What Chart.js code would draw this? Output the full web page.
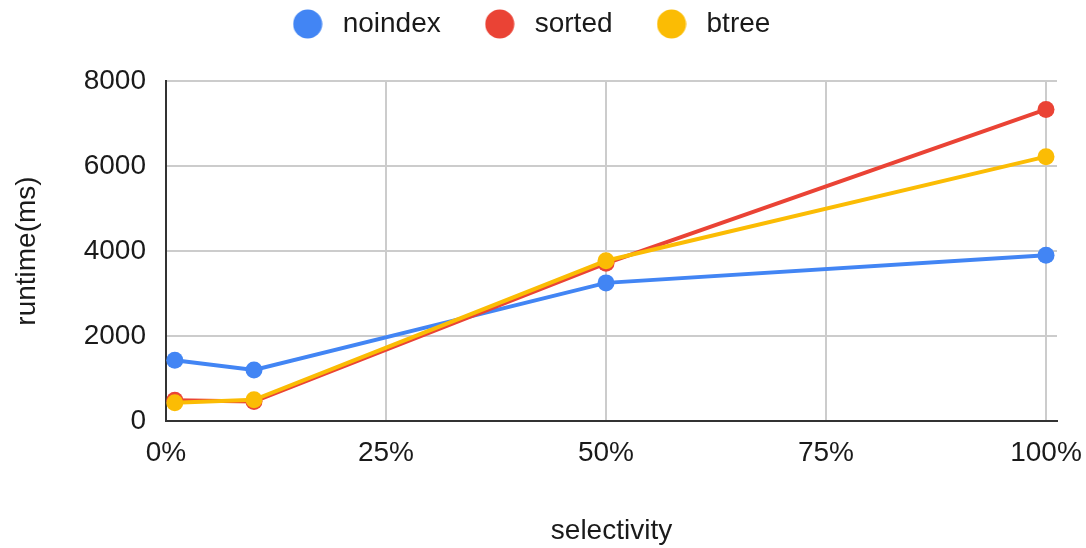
<!DOCTYPE html>
<html>
<head>
<meta charset="utf-8">
<script src="https://cdn.jsdelivr.net/npm/chart.js@4"></script>
<style>
html,body{margin:0;padding:0;background:#fff;}
canvas{display:block;}
</style>
</head>
<body>
<canvas id="chart" width="1086" height="548"></canvas>
<script>
// selectivity (%) on the x axis
const selectivity = [1, 10, 50, 100];
// runtime in ms for each index type
const noindex = [1430, 1200, 3250, 3900];
const sorted = [490, 460, 3710, 7330];
const btree = [430, 500, 3770, 6220];
const seriesNames = ['noindex', 'sorted', 'btree'];
const xTicks = [0, 25, 50, 75, 100];
const yTicks = [0, 2000, 4000, 6000, 8000];

const colors = ['#4285F4', '#EA4335', '#FBBC04'];
const FONT = {family: '"Liberation Sans", Arial, sans-serif', size: 28};
const TEXT = '#1a1a1a';

function pts(vals){ return selectivity.map((x,i)=>({x:x, y:vals[i]})); }

// legend dot on a small canvas, so the gap to the label can be wider than the dot
function dot(color){
  const c=document.createElement('canvas'); c.width=c.height=30;
  const g=c.getContext('2d'); g.fillStyle=color;
  g.beginPath(); g.arc(15,15,14.5,0,Math.PI*2); g.fill();
  return c;
}

const datasets=[noindex, sorted, btree].map((d,i)=>({
  label: seriesNames[i], data: pts(d),
  borderColor: colors[i], backgroundColor: colors[i],
  borderWidth: 4, pointRadius: 8.5, pointHoverRadius: 8.5, pointBorderWidth: 0,
  tension: 0, order: 2-i   // later series on top, like the sheet
}));

new Chart(document.getElementById('chart'), {
  type: 'line',
  data: {datasets},
  options: {
    responsive: false, animation: false, events: [],
    layout: {padding: {top: -28, right: 29, bottom: 0, left: 0}},
    plugins: {
      tooltip: {enabled: false},
      legend: {
        position: 'top',
        labels: {
          font: FONT, color: TEXT, usePointStyle: true, pointStyleWidth: 42, padding: 38,
          generateLabels(chart){
            return chart.data.datasets.map((ds,i)=>({
              text: ds.label, datasetIndex: i, pointStyle: dot(ds.borderColor),
              fillStyle: ds.borderColor, strokeStyle: ds.borderColor, lineWidth: 0,
              hidden: false, fontColor: TEXT
            }));
          }
        }
      },
      // empty title used as spacer between legend and plot
      title: {display: true, text: '', weight: 500, padding: {top: 32, bottom: 0}, font: {size: 1, lineHeight: 1}}
    },
    scales: {
      x: {
        type: 'linear', min: 0, max: 101.25,
        afterBuildTicks: s => { s.ticks = xTicks.map(v=>({value:v})); },
        afterFit: s => { s.height = 127; s.paddingLeft = 0; s.paddingRight = 0; },
        ticks: {font: FONT, color: TEXT, padding: 15, maxRotation: 0, autoSkip: false, callback: v => v + '%'},
        grid: {color: '#ccc', lineWidth: 2, drawTicks: false},
        border: {color: '#333', width: 2},
        title: {display: true, text: 'selectivity', font: FONT, color: TEXT, padding: {top: 0, bottom: 0}}
      },
      y: {
        min: 0, max: 8000,
        afterBuildTicks: s => { s.ticks = yTicks.map(v=>({value:v})); },
        afterFit: s => { s.width = 166; },
        ticks: {font: FONT, color: TEXT, padding: 20, callback: v => String(v)},
        grid: {color: '#ccc', lineWidth: 2, drawTicks: false},
        border: {color: '#333', width: 2},
        title: {display: true, text: 'runtime(ms)', font: FONT, color: TEXT, padding: {top: 10, bottom: 0}}
      }
    }
  }
});
</script>
</body>
</html>
